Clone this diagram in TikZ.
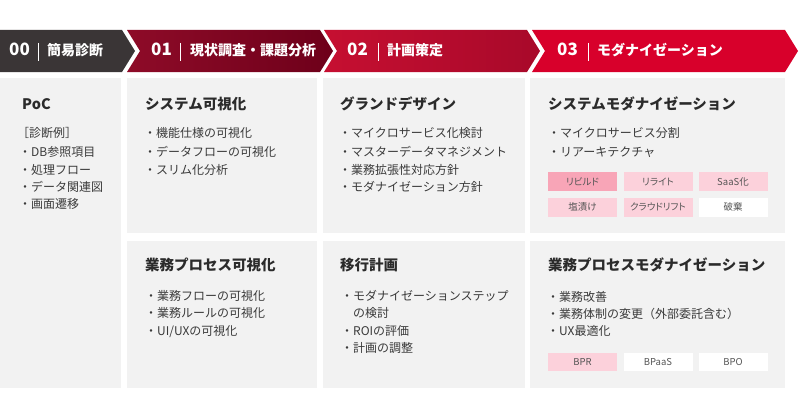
\documentclass[tikz,border=0pt]{standalone}
\usepackage{fontspec}
\setmainfont{Noto Sans CJK JP}
\newfontfamily\tagfont{Noto Sans CJK JP}[RawFeature=+palt]
\definecolor{segzero}{HTML}{3A3536}
\definecolor{segonea}{HTML}{8E0B28}
\definecolor{segoneb}{HTML}{6E001A}
\definecolor{segtwoa}{HTML}{C60F31}
\definecolor{segtwob}{HTML}{A8092A}
\definecolor{segthree}{HTML}{D8002B}
\definecolor{panelc}{HTML}{F2F2F2}
\definecolor{titlec}{HTML}{2B2B2B}
\definecolor{bodyc}{HTML}{3A3A3A}
\definecolor{tagtext}{HTML}{555555}
\definecolor{pinkdeep}{HTML}{F8A5B7}
\definecolor{pinklight}{HTML}{FCD1DB}
\begin{document}
\begin{tikzpicture}[x=1pt,y=-1pt,
  txt/.style={inner sep=0pt, text height=.88em, text depth=.12em, anchor=west},
  hd/.style={txt, text=white, font=\bfseries\fontsize{14}{14}\selectfont},
  hdnum/.style={txt, text=white, font=\bfseries\fontsize{17}{17}\selectfont},
  ttl/.style={txt, text=titlec, font=\bfseries\fontsize{14.5}{14.5}\selectfont},
  itm/.style={txt, text=bodyc, font=\fontsize{12}{12}\selectfont},
  tagbox/.style={inner sep=0pt, minimum width=69pt, minimum height=19pt, text=tagtext, font=\tagfont\fontsize{9.5}{9.5}\selectfont},
  sepbar/.style={white, line width=0.8pt}]
\useasboundingbox (0,0) rectangle (800,420);
\fill[white] (0,0) rectangle (800,420);
% header chevrons
\fill[segzero] (0,30) -- (122,30) -- (135,51) -- (122,72) -- (0,72) -- cycle;
\path[left color=segonea, right color=segoneb] (127,30) -- (320,30) -- (333,51) -- (320,72) -- (127,72) -- (140,51) -- cycle;
\path[left color=segtwoa, right color=segtwob] (324,30) -- (527,30) -- (540,51) -- (527,72) -- (324,72) -- (337,51) -- cycle;
\fill[segthree] (532,30) -- (785,30) -- (798,51) -- (785,72) -- (532,72) -- (545,51) -- cycle;
% header texts
\node[hdnum] (n0) at (9,52) {00};
\draw[sepbar] (38,43) -- (38,61);
\node[hd] (h0) at (47,52) {簡易診断};
\node[hdnum] (n1) at (151,52) {01};
\draw[sepbar] (180,43) -- (180,61);
\node[hd] (h1) at (190,52) {現状調査・課題分析};
\node[hdnum] (n2) at (347,52) {02};
\draw[sepbar] (378,43) -- (378,61);
\node[hd] (h2) at (387,52) {計画策定};
\node[hdnum] (n3) at (557,52) {03};
\draw[sepbar] (588,43) -- (588,61);
\node[hd] (h3) at (597,52) {モダナイゼーション};
% panels
\fill[panelc] (0,78) rectangle (121,388);
\fill[panelc] (127,78) rectangle (317,233);
\fill[panelc] (127,241) rectangle (317,388);
\fill[panelc] (323,78) rectangle (525,233);
\fill[panelc] (323,241) rectangle (525,388);
\fill[panelc] (530,78) rectangle (785,233);
\fill[panelc] (530,241) rectangle (785,388);
% column 0
\node[ttl] (t0) at (22,106) {PoC};
\node[itm] (a1) at (17,134) {［診断例］};
\node[itm] (a2) at (19,153) {・DB参照項目};
\node[itm] (a3) at (19,171) {・処理フロー};
\node[itm] (a4) at (19,188) {・データ関連図};
\node[itm] (a5) at (19,205) {・画面遷移};
% column 1 top
\node[ttl] (t1) at (145,106) {システム可視化};
\node[itm] (b1) at (144,134) {・機能仕様の可視化};
\node[itm] (b2) at (144,153) {・データフローの可視化};
\node[itm] (b3) at (144,171) {・スリム化分析};
% column 1 bottom
\node[ttl] (t1b) at (145,267) {業務プロセス可視化};
\node[itm] (c1) at (145,297) {・業務フローの可視化};
\node[itm] (c2) at (145,314) {・業務ルールの可視化};
\node[itm] (c3) at (145,332) {・UI/UXの可視化};
% column 2 top
\node[ttl] (t2) at (340,106) {グランドデザイン};
\node[itm] (d1) at (339,134) {・マイクロサービス化検討};
\node[itm] (d2) at (339,153) {・マスターデータマネジメント};
\node[itm] (d3) at (339,171) {・業務拡張性対応方針};
\node[itm] (d4) at (339,188) {・モダナイゼーション方針};
% column 2 bottom
\node[ttl] (t2b) at (340,267) {移行計画};
\node[itm] (e1) at (341,297) {・モダナイゼーションステップ};
\node[itm] (e1b) at (353,314) {の検討};
\node[itm] (e2) at (341,332) {・ROIの評価};
\node[itm] (e3) at (341,349) {・計画の調整};
% column 3 top
\node[ttl] (t3) at (548,106) {システムモダナイゼーション};
\node[itm] (f1) at (548,134) {・マイクロサービス分割};
\node[itm] (f2) at (548,153) {・リアーキテクチャ};
\node[tagbox, fill=pinkdeep] (g1) at (582.5,181.5) {リビルド};
\node[tagbox, fill=pinklight] (g2) at (658,181.5) {リライト};
\node[tagbox, fill=pinklight] (g3) at (733,181.5) {SaaS化};
\node[tagbox, fill=pinklight] (g4) at (582.5,207) {塩漬け};
\node[tagbox, fill=pinklight] (g5) at (658,207) {クラウドリフト};
\node[tagbox, fill=white] (g6) at (733,207) {破棄};
% column 3 bottom
\node[ttl] (t3b) at (548,267) {業務プロセスモダナイゼーション};
\node[itm] (h1x) at (547,298) {・業務改善};
\node[itm] (h2x) at (547,315) {・業務体制の変更（外部委託含む）};
\node[itm] (h3x) at (547,332) {・UX最適化};
\node[tagbox, fill=pinklight, minimum height=18pt] (k1) at (582.5,362) {BPR};
\node[tagbox, fill=white, minimum height=18pt] (k2) at (658,362) {BPaaS};
\node[tagbox, fill=white, minimum height=18pt] (k3) at (733,362) {BPO};
\end{tikzpicture}
\end{document}
